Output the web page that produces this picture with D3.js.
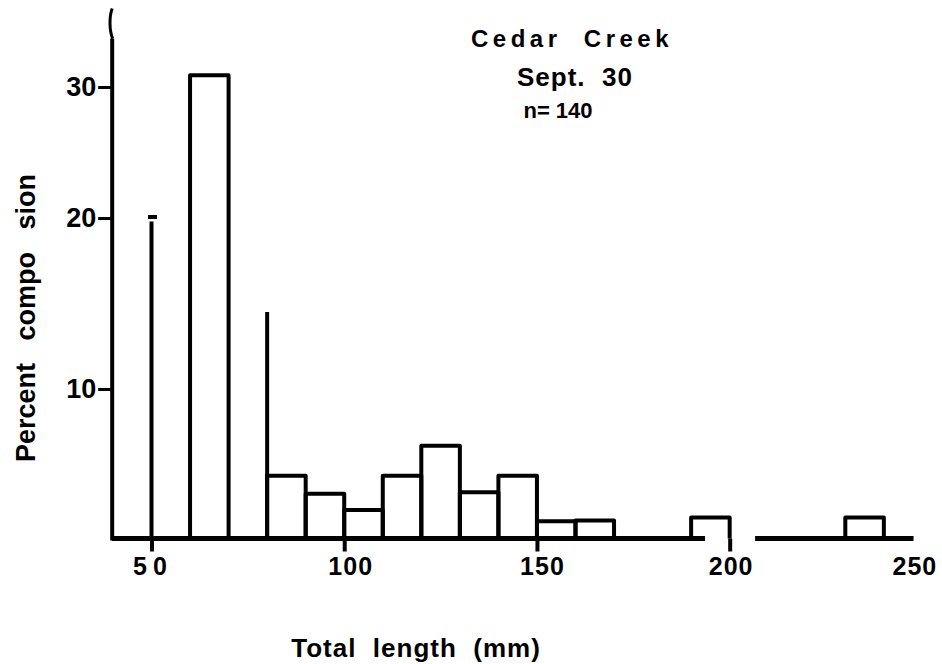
<!DOCTYPE html>
<html>
<head>
<meta charset="utf-8">
<script src="https://cdn.jsdelivr.net/npm/d3@7"></script>
<style>
  body { margin: 0; background: #fff; }
  svg { display: block; font-family: 'Liberation Sans', Arial, sans-serif; font-weight: bold; }
</style>
</head>
<body>
<div id="chart"></div>
<script>
const width = 942;
const height = 664;

// 10 mm length classes (lower bound) and percent of the catch
const binStarts = [50, 60, 70, 80, 90, 100, 110, 120, 130, 140, 150, 160, 190, 230];
const binPercent = [19.8, 30.9, 14.5, 4.2, 3.0, 1.9, 4.2, 6.2, 3.1, 4.2, 1.15, 1.2, 1.4, 1.4];
const binWidth = 10;

// classes whose top edge got lost in the scan: only one side is left
const survivingEdge = { 50: 'left', 70: 'right' };

const xTicks = [50, 100, 150, 200, 250];
const yTicks = [10, 20, 30];

// baseline is broken near 200 in the original
const baselineRuns = [[39.8, 193.6], [206.6, 247.7]];
const yAxisTop = 33.7;

const titleLines = ['Cedar  Creek', 'Sept.  30', 'n= 140'];
const xTitle = 'Total  length  (mm)';
const yTitle = 'Percent   compo   sion';

const svg = d3
  .select('#chart')
  .append('svg')
  .attr('width', width)
  .attr('height', height);

const g = svg.append('g');

const x = d3.scaleLinear().domain([50, 250]).range([151.5, 922.4]);

// hand drawn axis: tick spacing is not even, so use a piecewise scale
const y = d3.scaleLinear().domain([0, 10, 20, 30]).range([538.5, 389, 218, 87]);

const bins = binStarts.map((x0, i) => ({ x0: x0, x1: x0 + binWidth, v: binPercent[i] }));

g.selectAll('path.bar')
  .data(bins)
  .enter()
  .append('path')
  .attr('class', 'bar')
  .attr('fill', 'none')
  .attr('stroke', '#000')
  .attr('stroke-width', 4)
  .attr('stroke-linejoin', 'round')
  .attr('d', (d) => {
    const l = x(d.x0);
    const r = x(d.x1);
    const t = y(d.v);
    const b = y(0);
    const edge = survivingEdge[d.x0];
    if (edge === 'left') return `M${l},${b}V${t}M${l - 3.5},${t - 4.5}h9`;
    if (edge === 'right') return `M${r},${b}V${t}`;
    return `M${l},${b}V${t}H${r}V${b}`;
  });

// baseline
g.selectAll('path.baseline')
  .data(baselineRuns)
  .enter()
  .append('path')
  .attr('class', 'baseline')
  .attr('stroke', '#000')
  .attr('stroke-width', 5)
  .attr('d', (d) => `M${x(d[0])},${y(0)}H${x(d[1])}`);

// x axis ticks and labels (labels sit a little off their ticks in the original)
const labelShift = { 50: 1, 100: 6, 150: 5, 200: 1, 250: -8 };

const xAxis = g
  .append('g')
  .attr('transform', `translate(0,${y(0)})`)
  .call(d3.axisBottom(x).tickValues(xTicks).tickSize(13).tickPadding(6));

xAxis.attr('font-size', null).attr('font-family', null);
xAxis.select('.domain').remove();
xAxis.selectAll('.tick line').attr('stroke', '#000').attr('stroke-width', 4);
xAxis
  .selectAll('.tick')
  .filter((d) => d === 250)
  .select('line')
  .remove();
xAxis
  .selectAll('.tick text')
  .attr('fill', '#000')
  .attr('font-size', 25)
  .attr('dx', (d) => labelShift[d])
  .attr('letter-spacing', (d) => (d === 50 ? 6 : 1));

// y axis
const x0 = x(baselineRuns[0][0]);
g.append('path')
  .attr('stroke', '#000')
  .attr('stroke-width', 4)
  .attr('d', `M${x0},${y(0) + 2}V${y(yAxisTop)}`);

g.append('path')
  .attr('fill', 'none')
  .attr('stroke', '#000')
  .attr('stroke-width', 3)
  .attr('d', `M${x0 + 0.5},${y(yAxisTop)}C${x0 - 3},${y(yAxisTop) - 8} ${x0 - 3},${y(yAxisTop) - 22} ${x0},${y(yAxisTop) - 30}`);

const yAxis = g
  .append('g')
  .attr('transform', `translate(${x0},0)`)
  .call(d3.axisLeft(y).tickValues(yTicks).tickSize(14).tickPadding(2));

yAxis.attr('font-size', null).attr('font-family', null);
yAxis.select('.domain').remove();
yAxis.selectAll('.tick line').attr('stroke', '#000').attr('stroke-width', 3);
yAxis.selectAll('.tick text').attr('fill', '#000').attr('font-size', 27);

// titles
const titleSpecs = [
  { x: 572, y: 47, size: 24, spacing: 4.5 },
  { x: 575, y: 86, size: 26, spacing: 1 },
  { x: 558, y: 118, size: 22, spacing: 0 },
];

svg
  .selectAll('text.title')
  .data(titleLines)
  .enter()
  .append('text')
  .attr('class', 'title')
  .attr('x', (d, i) => titleSpecs[i].x)
  .attr('y', (d, i) => titleSpecs[i].y)
  .attr('font-size', (d, i) => titleSpecs[i].size)
  .attr('letter-spacing', (d, i) => titleSpecs[i].spacing)
  .attr('text-anchor', 'middle')
  .style('white-space', 'pre')
  .text((d) => d);

svg
  .append('text')
  .attr('x', 416)
  .attr('y', 657)
  .attr('font-size', 26)
  .attr('letter-spacing', 1)
  .attr('text-anchor', 'middle')
  .style('white-space', 'pre')
  .text(xTitle);

svg
  .append('text')
  .attr('transform', 'translate(35,318) rotate(-90)')
  .attr('font-size', 27)
  .attr('text-anchor', 'middle')
  .style('white-space', 'pre')
  .text(yTitle);
</script>
</body>
</html>
